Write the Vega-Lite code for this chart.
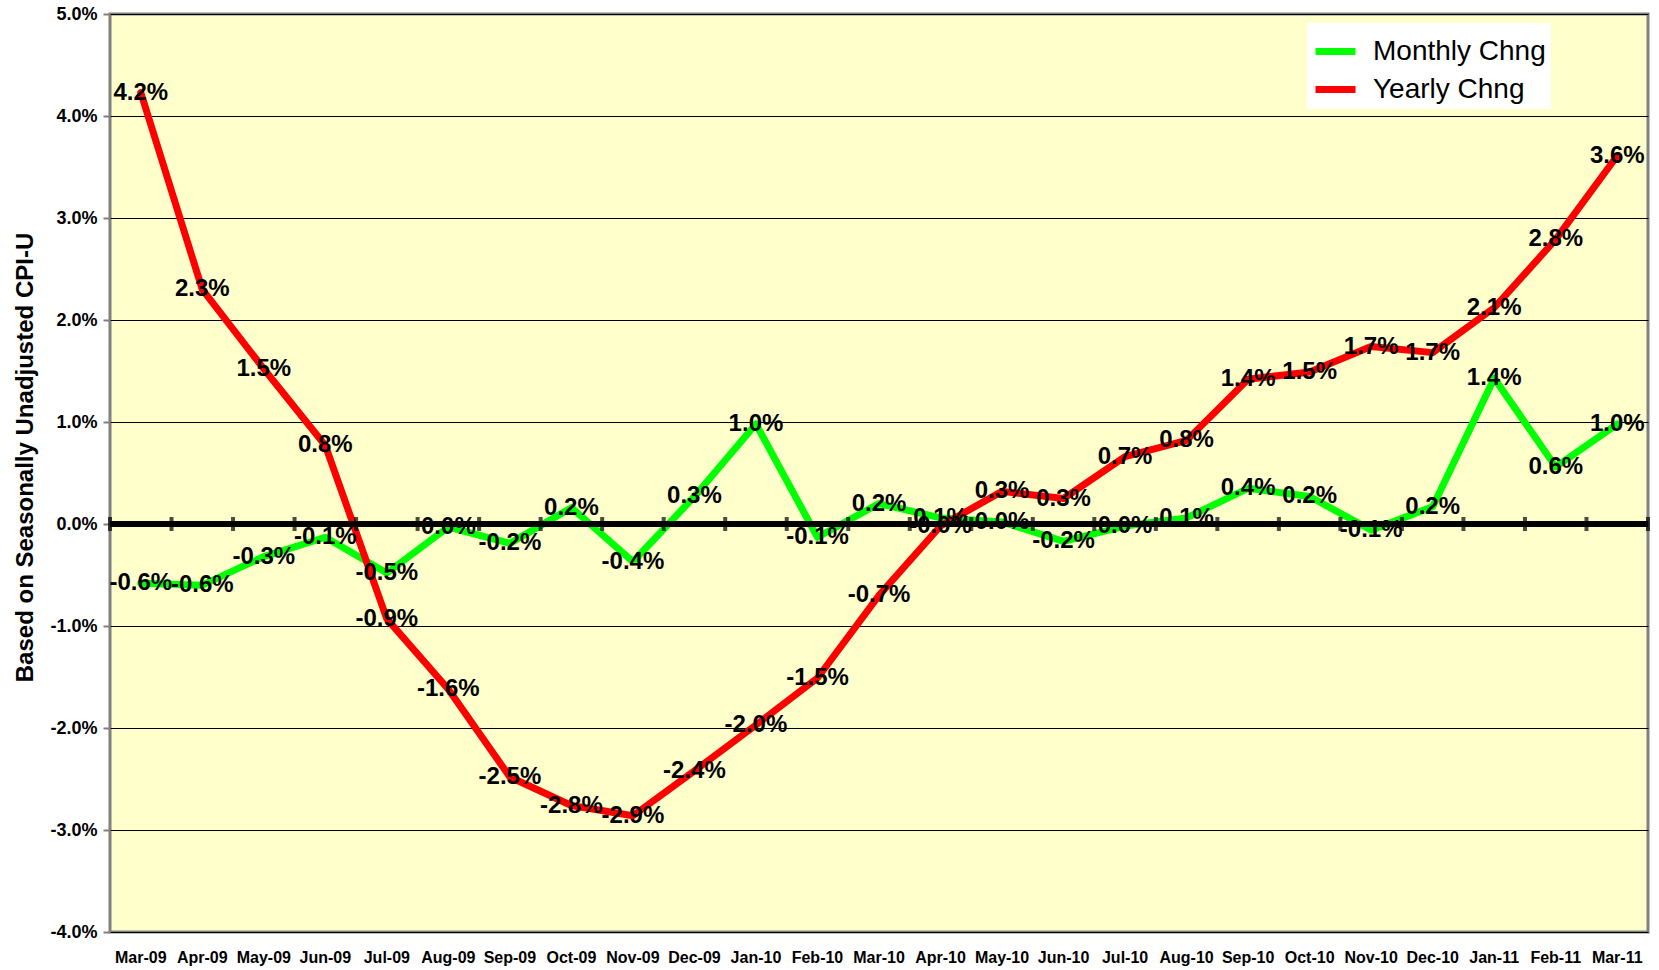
{
  "$schema": "https://vega.github.io/schema/vega-lite/v6.json",
  "autosize": "none",
  "width": 1538,
  "height": 918,
  "padding": {"left": 110, "top": 14, "right": 11, "bottom": 38},
  "background": "white",
  "config": {
    "view": {"fill": "#FFFFCC", "stroke": "#808080", "strokeWidth": 3},
    "font": "Liberation Sans"
  },
  "datasets": {
    "pts": [
      {"month": "Mar-09", "series": "Monthly Chng", "value": -0.58, "label": "-0.6%"},
      {"month": "Apr-09", "series": "Monthly Chng", "value": -0.6, "label": "-0.6%"},
      {"month": "May-09", "series": "Monthly Chng", "value": -0.32, "label": "-0.3%"},
      {"month": "Jun-09", "series": "Monthly Chng", "value": -0.13, "label": "-0.1%"},
      {"month": "Jul-09", "series": "Monthly Chng", "value": -0.48, "label": "-0.5%"},
      {"month": "Aug-09", "series": "Monthly Chng", "value": -0.03, "label": "0.0%"},
      {"month": "Sep-09", "series": "Monthly Chng", "value": -0.19, "label": "-0.2%"},
      {"month": "Oct-09", "series": "Monthly Chng", "value": 0.16, "label": "0.2%"},
      {"month": "Nov-09", "series": "Monthly Chng", "value": -0.37, "label": "-0.4%"},
      {"month": "Dec-09", "series": "Monthly Chng", "value": 0.27, "label": "0.3%"},
      {"month": "Jan-10", "series": "Monthly Chng", "value": 0.98, "label": "1.0%"},
      {"month": "Feb-10", "series": "Monthly Chng", "value": -0.13, "label": "-0.1%"},
      {"month": "Mar-10", "series": "Monthly Chng", "value": 0.2, "label": "0.2%"},
      {"month": "Apr-10", "series": "Monthly Chng", "value": 0.06, "label": "0.1%"},
      {"month": "May-10", "series": "Monthly Chng", "value": 0.02, "label": "0.0%"},
      {"month": "Jun-10", "series": "Monthly Chng", "value": -0.17, "label": "-0.2%"},
      {"month": "Jul-10", "series": "Monthly Chng", "value": -0.02, "label": "0.0%"},
      {"month": "Aug-10", "series": "Monthly Chng", "value": 0.06, "label": "0.1%"},
      {"month": "Sep-10", "series": "Monthly Chng", "value": 0.35, "label": "0.4%"},
      {"month": "Oct-10", "series": "Monthly Chng", "value": 0.27, "label": "0.2%"},
      {"month": "Nov-10", "series": "Monthly Chng", "value": -0.06, "label": "-0.1%"},
      {"month": "Dec-10", "series": "Monthly Chng", "value": 0.17, "label": "0.2%"},
      {"month": "Jan-11", "series": "Monthly Chng", "value": 1.43, "label": "1.4%"},
      {"month": "Feb-11", "series": "Monthly Chng", "value": 0.56, "label": "0.6%"},
      {"month": "Mar-11", "series": "Monthly Chng", "value": 0.98, "label": "1.0%"},
      {"month": "Mar-09", "series": "Yearly Chng", "value": 4.23, "label": "4.2%"},
      {"month": "Apr-09", "series": "Yearly Chng", "value": 2.3, "label": "2.3%"},
      {"month": "May-09", "series": "Yearly Chng", "value": 1.52, "label": "1.5%"},
      {"month": "Jun-09", "series": "Yearly Chng", "value": 0.77, "label": "0.8%"},
      {"month": "Jul-09", "series": "Yearly Chng", "value": -0.93, "label": "-0.9%"},
      {"month": "Aug-09", "series": "Yearly Chng", "value": -1.62, "label": "-1.6%"},
      {"month": "Sep-09", "series": "Yearly Chng", "value": -2.48, "label": "-2.5%"},
      {"month": "Oct-09", "series": "Yearly Chng", "value": -2.76, "label": "-2.8%"},
      {"month": "Nov-09", "series": "Yearly Chng", "value": -2.86, "label": "-2.9%"},
      {"month": "Dec-09", "series": "Yearly Chng", "value": -2.42, "label": "-2.4%"},
      {"month": "Jan-10", "series": "Yearly Chng", "value": -1.97, "label": "-2.0%"},
      {"month": "Feb-10", "series": "Yearly Chng", "value": -1.51, "label": "-1.5%"},
      {"month": "Mar-10", "series": "Yearly Chng", "value": -0.7, "label": "-0.7%"},
      {"month": "Apr-10", "series": "Yearly Chng", "value": -0.02, "label": "-0.0%"},
      {"month": "May-10", "series": "Yearly Chng", "value": 0.32, "label": "0.3%"},
      {"month": "Jun-10", "series": "Yearly Chng", "value": 0.25, "label": "0.3%"},
      {"month": "Jul-10", "series": "Yearly Chng", "value": 0.66, "label": "0.7%"},
      {"month": "Aug-10", "series": "Yearly Chng", "value": 0.82, "label": "0.8%"},
      {"month": "Sep-10", "series": "Yearly Chng", "value": 1.42, "label": "1.4%"},
      {"month": "Oct-10", "series": "Yearly Chng", "value": 1.49, "label": "1.5%"},
      {"month": "Nov-10", "series": "Yearly Chng", "value": 1.74, "label": "1.7%"},
      {"month": "Dec-10", "series": "Yearly Chng", "value": 1.68, "label": "1.7%"},
      {"month": "Jan-11", "series": "Yearly Chng", "value": 2.12, "label": "2.1%"},
      {"month": "Feb-11", "series": "Yearly Chng", "value": 2.79, "label": "2.8%"},
      {"month": "Mar-11", "series": "Yearly Chng", "value": 3.61, "label": "3.6%"}
    ]
  },
  "data": {"name": "pts"},
  "encoding": {
    "x": {
      "field": "month",
      "type": "ordinal",
      "sort": null,
      "scale": {"type": "band", "paddingInner": 0, "paddingOuter": 0},
      "axis": {
        "title": null,
        "domain": false,
        "ticks": false,
        "grid": false,
        "labelAngle": 0,
        "labelFont": "Liberation Sans",
        "labelFontWeight": "bold",
        "labelFontSize": 16,
        "labelColor": "black",
        "labelPadding": 17
      }
    },
    "y": {
      "field": "value",
      "type": "quantitative",
      "scale": {"domain": [-4, 5], "nice": false, "zero": false},
      "axis": {
        "title": "Based on Seasonally Unadjusted CPI-U",
        "titleFont": "Liberation Sans",
        "titleFontWeight": "bold",
        "titleFontSize": 24,
        "titleColor": "black",
        "titlePadding": 12,
        "titleY": 443,
        "values": [-4, -3, -2, -1, 0, 1, 2, 3, 4, 5],
        "labelExpr": "(datum.value < 0 ? '-' : '') + format(abs(datum.value), '.1f') + '%'",
        "labelFont": "Liberation Sans",
        "labelFontWeight": "bold",
        "labelFontSize": 18,
        "labelColor": "black",
        "labelPadding": 6,
        "domain": false,
        "ticks": true,
        "tickSize": 7,
        "tickColor": "#808080",
        "tickWidth": 2,
        "grid": true,
        "gridColor": "black",
        "gridWidth": 1,
        "gridOpacity": 1
      }
    }
  },
  "layer": [
    {
      "mark": {"type": "line", "strokeWidth": 7, "strokeJoin": "round", "strokeCap": "round"},
      "encoding": {
        "color": {
          "field": "series",
          "type": "nominal",
          "scale": {"domain": ["Monthly Chng", "Yearly Chng"], "range": ["#00FF00", "#FF0000"]},
          "legend": {
            "title": null,
            "orient": "none",
            "legendX": 1197,
            "legendY": 9,
            "fillColor": "white",
            "padding": 5,
            "symbolType": "stroke",
            "symbolSize": 1600,
            "symbolStrokeWidth": 7,
            "labelFont": "Liberation Sans",
            "labelFontSize": 28,
            "labelColor": "black",
            "labelOffset": 14,
            "rowPadding": 0,
            "labelLimit": 400
          }
        }
      }
    },
    {
      "mark": {"type": "rule", "color": "black", "strokeWidth": 5},
      "encoding": {"y": {"datum": 0}, "x": null}
    },
    {
      "transform": [{"filter": "datum.series === 'Monthly Chng'"}],
      "mark": {"type": "tick", "orient": "vertical", "color": "black", "size": 14, "thickness": 4},
      "encoding": {
        "x": {"field": "month", "type": "ordinal", "sort": null, "bandPosition": 0},
        "y": {"datum": 0}
      }
    },
    {
      "transform": [{"filter": "datum.series === 'Monthly Chng' && datum.month === 'Mar-11'"}],
      "mark": {"type": "tick", "orient": "vertical", "color": "black", "size": 14, "thickness": 4},
      "encoding": {
        "x": {"field": "month", "type": "ordinal", "sort": null, "bandPosition": 1},
        "y": {"datum": 0}
      }
    },
    {
      "mark": {"type": "text", "font": "Liberation Sans", "fontWeight": "bold", "fontSize": 24, "color": "black", "align": "center", "baseline": "middle"},
      "encoding": {"text": {"field": "label"}}
    }
  ]
}
